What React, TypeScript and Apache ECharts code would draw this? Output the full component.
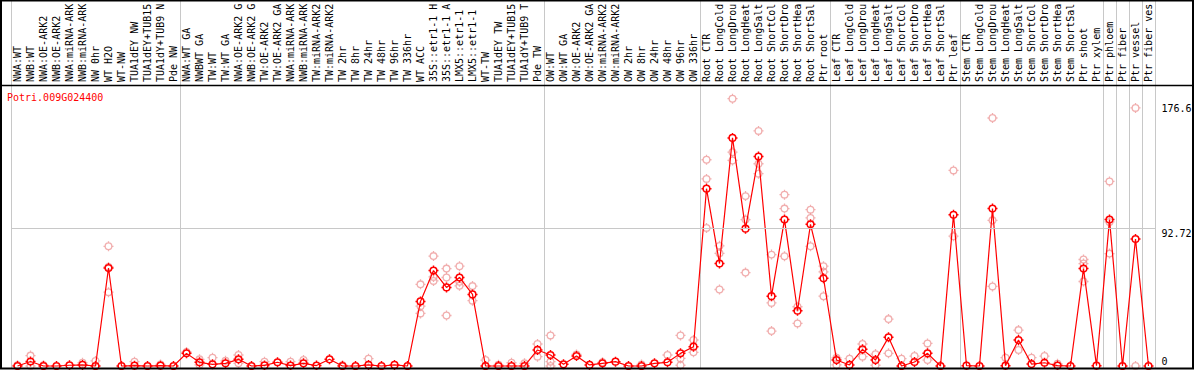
import React, { useEffect, useRef } from "react";
import * as echarts from "echarts";

const geneName = "Potri.009G024400";

const categories = [
  "NWA:WT", "NWB:WT", "NWA:OE-ARK2", "NWB:OE-ARK2", "NWA:miRNA-ARK2", "NWB:miRNA-ARK2",
  "NW 0hr", "WT H2O", "WT-NW", "TUA1dEY NW", "TUA1dEY+TUB15 NW", "TUA1dY+TUB9 NW", "Pde NW",
  "NWA:WT GA", "NWBWT GA", "TW:WT", "TW:WT GA", "NWA:OE-ARK2 GA", "NWB:OE-ARK2 GA",
  "TW:OE-ARK2", "TW:OE-ARK2 GA", "NWA:miRNA-ARK2 GA", "NWB:miRNA-ARK2 GA", "TW:miRNA-ARK2",
  "TW:miRNA-ARK2 GA", "TW 2hr", "TW 8hr", "TW 24hr", "TW 48hr", "TW 96hr", "TW 336hr",
  "WT ACC", "35S::etr1-1 H2O", "35S::etr1-1 ACC", "LMX5::etr1-1 H2O", "LMX5::etr1-1 ACC",
  "WT-TW", "TUA1dEY TW", "TUA1dEY+TUB15 TW", "TUA1dY+TUB9 TW", "Pde TW",
  "OW:WT", "OW:WT GA", "OW:OE-ARK2", "OW:OE-ARK2 GA", "OW:miRNA-ARK2", "OW:miRNA-ARK2 GA",
  "OW 2hr", "OW 8hr", "OW 24hr", "OW 48hr", "OW 96hr", "OW 336hr",
  "Root CTR", "Root LongCold", "Root LongDrought", "Root LongHeat", "Root LongSalt",
  "Root ShortCold", "Root ShortDrought", "Root ShortHeat", "Root ShortSalt", "Ptr root",
  "Leaf CTR", "Leaf LongCold", "Leaf LongDrought", "Leaf LongHeat", "Leaf LongSalt",
  "Leaf ShortCold", "Leaf ShortDrought", "Leaf ShortHeat", "Leaf ShortSalt", "Ptr leaf",
  "Stem CTR", "Stem LongCold", "Stem LongDrought", "Stem LongHeat", "Stem LongSalt",
  "Stem ShortCold", "Stem ShortDrought", "Stem ShortHeat", "Stem ShortSalt", "Ptr shoot", "Ptr xylem",
  "Ptr phloem", "Ptr fiber", "Ptr vessel", "Ptr fiber vessel",
];

const meanValues = [
  0, 3, 0, 0, 0.5, 0.7, 0, 66, 0, 0.2,
  0, 0.2, 0, 8.5, 2.5, 1.1, 1.8, 4.5, 0, 0.4,
  2.5, 0.3, 1.8, 0.3, 4.5, 0, 0, 0.7, 0, 0.7,
  0, 43.5, 64.3, 52.9, 59.6, 48.2, 0, 0, 0, 0,
  10.8, 7.4, 1.1, 6.7, 0.7, 1.8, 2.9, 0, 0, 1.8,
  2.5, 8.5, 13, 119.4, 69, 153.6, 92.5, 141.1, 47, 98.6,
  37.2, 95.4, 59.1, 4, 0.7, 11.2, 4, 19.3, 0, 2.7,
  8.5, 0, 101.8, 0.2, 0, 106, 0.2, 17.5, 1.3, 2.2,
  0.3, 0, 65.6, 0.2, 98.6, 0, 85.5, 0,
];

const repA = [
  0.5, 7, 0.5, null, null, 2.2, 3.4, 80.6, null, 2.9,
  null, 1, null, 9.5, 4.5, 5.6, 3.5, 7.4, null, 2.9,
  null, 2.9, 4, null, null, 0.5, null, 4.9, null, null,
  null, 55, 74, 65.6, 67.2, 53.8, 4, 0.8, 2.2, 1.8,
  14.8, 20.6, null, 7.8, null, 2.5, null, null, 1, null,
  7.4, 20.6, 17.5, 138.9, 80.9, 180, 114.4, 158.3, 75, 115.4,
  39.9, 105.3, 67.2, 5.5, 4.9, 14.8, 8, 31.6, 4.9, 6.7,
  15.2, null, 131.7, null, null, 167, 5.6, 24.2, 5.6, 6.7,
  1.5, null, 71.7, null, 124.3, null, 173.8, null,
];

const repB = [
  null, 0, null, null, null, null, null, 49.7, null, null,
  null, null, null, null, 0.8, null, null, 1.8, null, null,
  null, null, null, null, null, null, null, null, null, null,
  null, 40.3, 57.3, 59.6, 54, 44, null, null, null, null,
  6.3, 2.9, null, null, null, null, null, null, null, null,
  null, 5.1, 9.2, 126, 75.9, 144, 98.6, 136.2, 42.5, 106,
  28.7, 99.7, 63.4, 0.7, null, 6.3, 0.5, 8.5, null, null,
  4, null, 87.4, null, null, 98.1, null, 10.8, null, null,
  null, null, 69, null, 97, null, 0, null,
];

const repC = [
  null, null, null, null, null, null, null, 66.7, null, null,
  null, null, null, null, null, null, null, null, null, null,
  null, null, null, null, null, null, null, null, null, null,
  null, 35.4, 60, 34, 56.7, null, null, null, null, null,
  null, 0, null, null, null, null, null, null, null, null,
  null, 0.5, null, 93, 51.5, 138.4, 62.9, 129.5, 23.5, 73.9,
  null, 80.6, 47, null, null, null, null, null, null, null,
  null, null, null, null, null, 53.6, null, null, null, null,
  null, null, 56.9, null, 75.7, null, null, null,
];

// first category index of each sample group (group separators)
const groupStarts = [0, 13, 41, 53, 63, 73, 84, 85, 86, 87];
// value labels shown at the right edge
const refLines = [176.6, 92.72, 0];
const gridLineValues = [92.72];

const MONO = "'DejaVu Sans Mono', 'Liberation Mono', monospace";
const markerPath =
  "path://M6 0L6 2M6 10L6 12M0 6L2 6M10 6L12 6M10 6A4 4 0 1 1 2 6A4 4 0 1 1 10 6Z";

export default function App() {
  const ref = useRef<HTMLDivElement>(null);
  useEffect(() => {
    document.body.style.margin = "0";
    const chart = echarts.init(ref.current!, null, { renderer: "svg" });
    const splitInterval = (i: number) => groupStarts.includes(i);
    const toPairs = (arr: (number | null)[]) =>
      arr.map((v, i) => (v == null ? null : [i, v])).filter((p) => p !== null);
    const repSeries = [repA, repB, repC].map((arr) => ({
      type: "scatter",
      xAxisIndex: 0,
      yAxisIndex: 0,
      data: toPairs(arr),
      symbol: markerPath,
      symbolSize: 10,
      itemStyle: { color: "rgba(0,0,0,0)", borderColor: "#ee9a9a", borderWidth: 1.3 },
      z: 2,
      silent: true,
    }));
    const frame = [
      {
        type: "rect",
        shape: { x: 1, y: 0.5, width: 1192, height: 368 },
        style: { fill: "none", stroke: "#000", lineWidth: 2 },
        z: 100,
      },
      {
        type: "line",
        shape: { x1: 1, y1: 85.5, x2: 1193, y2: 85.5 },
        style: { stroke: "#000", lineWidth: 1.5 },
        z: 100,
      },
    ];
    chart.setOption({
      animation: false,
      title: {
        text: geneName,
        left: 7,
        top: 92,
        padding: 0,
        textStyle: { fontFamily: MONO, fontSize: 10, fontWeight: "normal", color: "#ff0000" },
      },
      grid: [
        { left: 11, right: 39, top: 86, bottom: 2, outerBoundsMode: "none", containLabel: false },
        { left: 11, right: 39, top: 0, height: 86, outerBoundsMode: "none", containLabel: false },
      ],
      xAxis: [
        {
          type: "category",
          data: categories,
          gridIndex: 0,
          position: "top",
          boundaryGap: true,
          axisLine: { show: false },
          axisTick: { show: false },
          axisLabel: {
            interval: 0,
            rotate: 90,
            margin: 4,
            hideOverlap: false,
            width: 81,
            overflow: "truncate",
            ellipsis: "",
            fontFamily: MONO,
            fontSize: 10,
            color: "#000",
          },
          splitLine: { show: true, interval: splitInterval, lineStyle: { color: "#c8c8c8", width: 1 } },
        },
        {
          type: "category",
          data: categories,
          gridIndex: 1,
          boundaryGap: true,
          axisLine: { show: false },
          axisTick: { show: false },
          axisLabel: { show: false },
          splitLine: { show: true, interval: splitInterval, lineStyle: { color: "#c8c8c8", width: 1 } },
        },
      ],
      yAxis: [
        {
          type: "value",
          gridIndex: 0,
          min: -1.35,
          max: 188.55,
          position: "right",
          axisLine: { show: true, onZero: false, lineStyle: { color: "#c8c8c8" } },
          axisTick: { show: false },
          axisLabel: { show: false },
          splitLine: { show: false },
        },
        {
          type: "value",
          gridIndex: 1,
          min: 0,
          max: 1,
          position: "right",
          axisLine: { show: true, onZero: false, lineStyle: { color: "#c8c8c8" } },
          axisTick: { show: false },
          axisLabel: { show: false },
          splitLine: { show: false },
        },
      ],
      series: [
        ...repSeries,
        {
          type: "line",
          xAxisIndex: 0,
          yAxisIndex: 0,
          data: meanValues,
          symbol: markerPath,
          symbolSize: 10,
          showAllSymbol: true,
          lineStyle: { color: "#ff0000", width: 1.2 },
          itemStyle: { color: "rgba(0,0,0,0)", borderColor: "#ff0000", borderWidth: 1.5 },
          z: 3,
          silent: true,
          markLine: {
            silent: true,
            symbol: ["none", "none"],
            label: { show: false },
            lineStyle: { color: "#c8c8c8", width: 1, type: "solid" },
            data: gridLineValues.map((v) => ({ yAxis: v })),
          },
        },
      ],
      graphic: frame,
    });
    const rightX = chart.convertToPixel({ xAxisIndex: 0 }, categories.length - 1) as number;
    const valueTexts = refLines.map((v) => {
      const y = chart.convertToPixel({ yAxisIndex: 0 }, v) as number;
      return {
        type: "text",
        x: rightX + 13,
        y: v === 0 ? y + 1 : y,
        z: 50,
        style: {
          text: String(v),
          font: "10px " + MONO,
          fill: "#000",
          verticalAlign: v === 0 ? "bottom" : "top",
          align: "left",
        },
      };
    });
    chart.setOption({ graphic: [...frame, ...valueTexts] });
    return () => chart.dispose();
  }, []);
  return (
    <div
      ref={ref}
      style={{ position: "absolute", left: 0, top: 0, width: 1194, height: 370, background: "#fff" }}
    />
  );
}
